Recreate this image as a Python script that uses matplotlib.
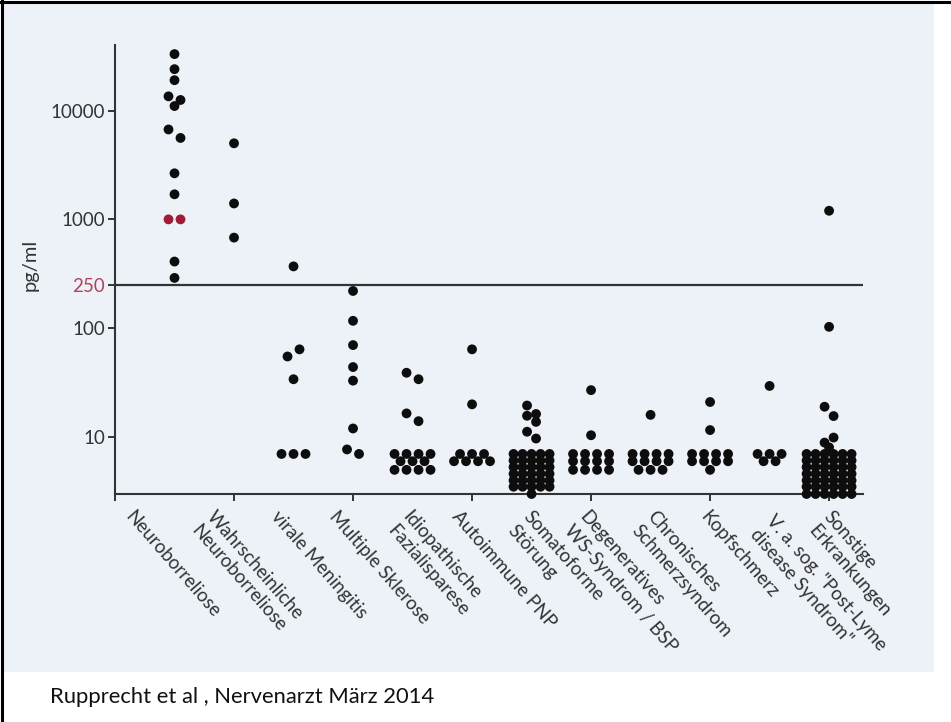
import numpy as np
import matplotlib.pyplot as plt
from matplotlib.patches import Rectangle
from matplotlib.lines import Line2D
from matplotlib.transforms import IdentityTransform

W, H = 951, 722

plt.rcParams['font.family'] = ['Lato', 'DejaVu Sans']

categories = [
    "Neuroborreliose",
    "Wahrscheinliche\nNeuroborreliose",
    "virale Meningitis",
    "Multiple Sklerose",
    "Idiopathische\nFazialisparese",
    "Autoimmune PNP",
    "Somatoforme\nStörung",
    "Degeneratives\nWS-Syndrom / BSP",
    "Chronisches\nSchmerzsyndrom",
    "Kopfschmerz",
    "V. a. sog. \"Post-Lyme\ndisease Syndrom\"",
    "Sonstige\nErkrankungen",
]

# pg/ml values; within one cluster the list order is left -> right
neuroborreliose = [33000, 24000, 19000, 11000, 13500, 12500, 6700, 5600, 2650, 1700, 410, 290]
neuroborreliose_red = [1000, 1000]
wahrscheinliche_nb = [5000, 1400, 680]
virale_meningitis = [370, 55, 64, 34, 7, 7, 7]
multiple_sklerose = [220, 117, 70, 44, 33, 12, 7.7, 7]
fazialisparese = [39, 34, 16.5, 14] + [7] * 4 + [6] * 3 + [5] * 4
autoimmune_pnp = [64, 20] + [7] * 3 + [6] * 4
somatoforme = [19.5, 15.7, 16.3, 13.8, 11.2, 9.7] + [7] * 5 + [6.1] * 5 + [5.3] * 5 \
    + [4.6] * 5 + [4.0] * 5 + [3.5] * 5 + [3.0]
degeneratives_ws = [27, 10.4] + [7] * 4 + [6] * 4 + [5] * 4
chron_schmerz = [16] + [7] * 4 + [6] * 4 + [5] * 3
kopfschmerz = [21, 11.6] + [7] * 4 + [6] * 4 + [5]
post_lyme = [29.5] + [7] * 3 + [6] * 2
sonstige = [1200, 103, 19, 15.6, 8.9, 9.9, 8.05] + [7] * 6 + [6.1] * 6 + [5.3] * 6 \
    + [4.6] * 6 + [4.0] * 6 + [3.5] * 6 + [3.0] * 6

groups = [neuroborreliose, wahrscheinliche_nb, virale_meningitis, multiple_sklerose,
          fazialisparese, autoimmune_pnp, somatoforme, degeneratives_ws, chron_schmerz,
          kopfschmerz, post_lyme, sonstige]
red_groups = {0: neuroborreliose_red}

y_ticks = [10, 100, 250, 1000, 10000]
cutoff = 250

# label start offsets (px) relative to the category position
label_dx = [-40, -18, -13, -14, 0, -10, 1, -2, 6, 0, 6, 4]
label_dy = [0, 0, 0, 0, 0, 0, 0, 0, 0, 0, 4, 0]

DOT = '#0d0d0d'
RED = '#a01c34'
AXC = '#333333'
BG = '#edf2f9'

fig = plt.figure(figsize=(W / 100, H / 100), dpi=100)
fig.patch.set_facecolor('white')
fig.patches.append(Rectangle((4, H - 672), 930, 672 - 4, transform=IdentityTransform(),
                             facecolor=BG, edgecolor='none', zorder=-5))
fig.lines.append(Line2D([1.5, 1.5], [0, H], transform=IdentityTransform(), color='black', lw=2.2))
fig.lines.append(Line2D([0, W], [H - 1.5, H - 1.5], transform=IdentityTransform(), color='black', lw=2.2))

ax = fig.add_axes([115 / W, 228 / H, 748 / W, 449 / H])
ax.set_zorder(2)
ax.set_facecolor('none')
ax.set_yscale('log')
ymin, ymax = 3, 40000
ax.set_ylim(ymin, ymax)
ax.set_xlim(0, 12.57)

ax_w_px = 748
ax_h_px = 449
px_per_dec = ax_h_px / (np.log10(ymax) - np.log10(ymin))
px_per_cat = ax_w_px / 12.57


def cluster_offsets(vals, bin_px=9.5):
    vals = np.asarray(vals, float)
    logs = np.log10(vals)
    counts = {v: int(np.sum(vals == v)) for v in set(vals)}
    order = np.argsort(-vals, kind='stable')
    bins = []
    for i in order:
        v = vals[i]
        if bins:
            b = bins[-1]
            same = all(vals[j] == v for j in b)
            near = (counts[v] == 1 and all(counts[vals[j]] == 1 for j in b)
                    and (logs[b[0]] - logs[i]) * px_per_dec < bin_px)
            if same or near:
                b.append(i)
                continue
        bins.append([i])
    nmax = max(len(b) for b in bins)
    # sparse rows are spread wide, dense columns are packed dot to dot
    step = 12 if nmax <= 4 else 9
    dx = np.zeros(len(vals))
    for b in bins:
        b = sorted(b)
        n = len(b)
        for k, j in enumerate(b):
            dx[j] = (k - (n - 1) / 2) * step
    return dx / px_per_cat


for i, vals in enumerate(groups):
    red = red_groups.get(i, [])
    allv = list(vals) + list(red)
    cols = [DOT] * len(vals) + [RED] * len(red)
    dx = cluster_offsets(allv)
    ax.scatter(i + 1 + dx, allv, s=50, c=cols, linewidths=0, zorder=3, clip_on=False)

ax.axhline(cutoff, color=AXC, lw=1.6, zorder=2)

for s in ['top', 'right']:
    ax.spines[s].set_visible(False)
for s in ['left', 'bottom']:
    ax.spines[s].set_color(AXC)
    ax.spines[s].set_linewidth(1.5)

ax.set_yticks(y_ticks)
ax.set_yticklabels([str(t) for t in y_ticks])
ax.yaxis.set_minor_locator(plt.NullLocator())
ax.tick_params(axis='y', length=5, width=1.4, color=AXC, labelsize=13.5, labelcolor=AXC, pad=2)
for lab, t in zip(ax.get_yticklabels(), y_ticks):
    if t == cutoff:
        lab.set_color('#b8405a')

ax.set_xticks(range(0, 13, 2))
ax.set_xticklabels([])
ax.tick_params(axis='x', length=5, width=1.4, color=AXC)

fig.text(30 / W, 1 - 265 / H, 'pg/ml', rotation=90, ha='center', va='center',
         fontsize=14.5, color=AXC)

for i, lab in enumerate(categories):
    x0 = ax.transData.transform((i + 1, 10))[0] + label_dx[i]
    y0 = H - 508 - label_dy[i]
    fig.text(x0, y0, lab, transform=IdentityTransform(), rotation=-49,
             rotation_mode='anchor', ha='left', va='top', fontsize=13.5,
             color=AXC, linespacing=1.25)

fig.text(50 / W, 25 / H, 'Rupprecht et al , Nervenarzt März 2014', ha='left',
         va='center', fontsize=15.8, color='#111111')

fig.savefig('out.png', dpi=100)
